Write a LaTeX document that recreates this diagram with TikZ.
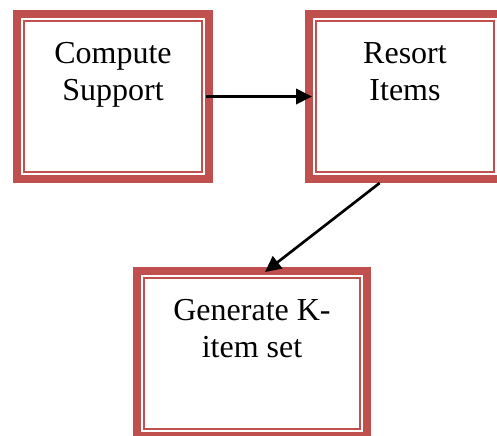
\documentclass[tikz,border=0pt]{standalone}
\usepackage{fontspec}
\setmainfont{Liberation Serif}
\usetikzlibrary{arrows.meta,positioning}
\definecolor{boxred}{RGB}{192,80,77}

\begin{document}
\begin{tikzpicture}[font=\fontsize{24pt}{27.75pt}\selectfont,
  stage/.style={draw=boxred, line width=6pt, inner sep=0pt, align=center,
    minimum width=144pt, minimum height=123.75pt, text height=64.5pt, text depth=59.25pt,
    path picture={\draw[boxred, line width=1.5pt]
      ([shift={(5.25pt,-5.25pt)}]path picture bounding box.north west) rectangle
      ([shift={(-5.25pt,5.25pt)}]path picture bounding box.south east);}},
  flow/.style={-{Triangle[length=12pt,width=11.5pt]}, line width=2pt},
]
\clip (0,0) rectangle (372.75pt,-327pt);

\node[stage] (support) at (84.75pt,-72.375pt) {Compute\\Support};
\node[stage, right=69pt of support] (resort) {Resort\\Items};
\node[stage, minimum width=172.5pt, below=63pt of support.south east, xshift=29.25pt] (generate) {Generate K-\\item set};

\draw[flow] ([xshift=-5.25pt]support.east) -- ([xshift=5.25pt]resort.west);
\draw[flow] ([xshift=-19pt]resort.south) -- ([shift={(9.75pt,-3.75pt)}]generate.north);

\end{tikzpicture}
\end{document}
